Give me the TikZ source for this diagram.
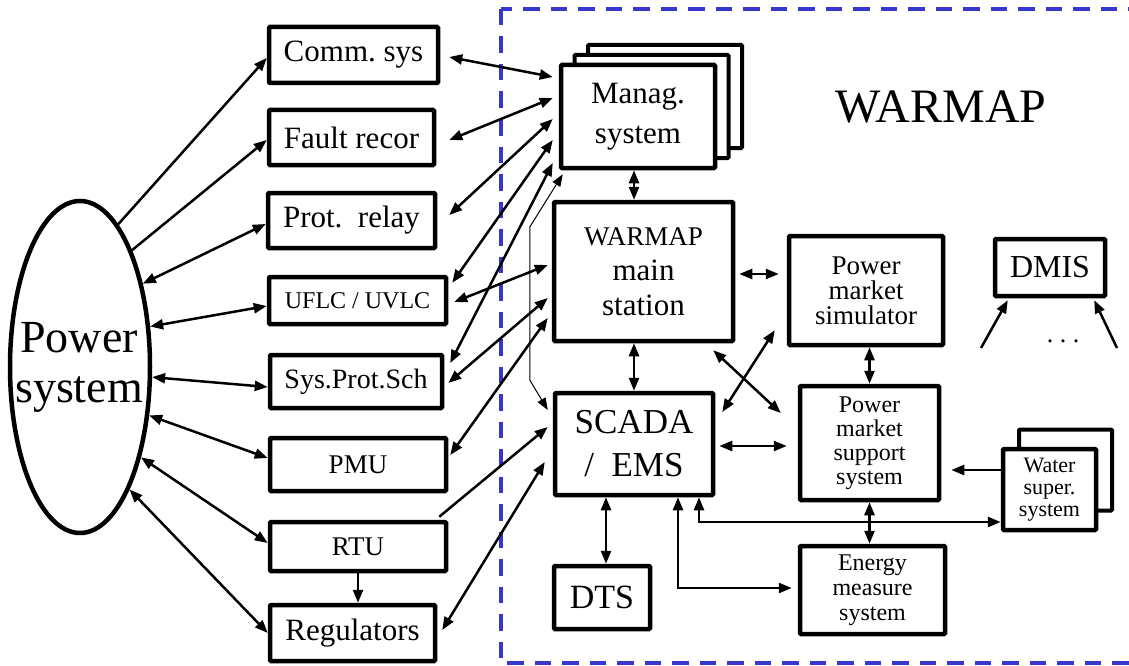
\documentclass[tikz,border=0pt]{standalone}
\usepackage{fontspec}
\setmainfont{Liberation Serif}
\usetikzlibrary{arrows.meta,shapes.geometric}
\definecolor{warmapblue}{RGB}{55,55,205}

\begin{document}
\frenchspacing
\begin{tikzpicture}[x=1pt,y=-1pt,
    block/.style={draw,line width=4.5pt,rounded corners=1pt,fill=white,inner sep=0pt,align=center},
    backblock/.style={block,line width=4pt},
    fs/.style 2 args={font=\fontsize{#1}{#2}\selectfont},
    twoway/.style={line width=2.5pt,{Triangle[length=13pt,width=10pt]}-{Triangle[length=13pt,width=10pt]}},
    oneway/.style={line width=2.5pt,-{Triangle[length=13pt,width=10pt]}},
    thinway/.style={line width=1pt,{Triangle[length=12pt,width=9pt]}-{Triangle[length=12pt,width=9pt]}},
    warmapframe/.style={draw=warmapblue,line width=4pt,dash pattern=on 16.5pt off 11pt}]

  \useasboundingbox (0,0) rectangle (1129,666);

  % the WARMAP part
  \draw[warmapframe] (501,9) rectangle (1145,663);
  \node[fs={48}{50}] (title) at (941,107) {WARMAP};

  % power system and field devices
  \node[ellipse,draw,line width=4.5pt,minimum width=140pt,minimum height=332pt,inner sep=0pt] (power) at (80,367) {};
  \node[fs={46}{50},align=center] (powertext) at (79,367) {Power\\system};

  \node[block,minimum width=169pt,minimum height=56pt,fs={31}{36}] (comm) at (353.5,55) {Comm. sys};
  \node[block,minimum width=165pt,minimum height=55pt,fs={31}{36}] (fault) at (351.5,137.5) {Fault recor};
  \node[block,minimum width=167pt,minimum height=55pt,fs={31}{36}] (prot) at (351.5,220.5) {Prot.\ \ relay};
  \node[block,minimum width=177pt,minimum height=47pt,fs={24}{28}] (uflc) at (357.5,300.5) {UFLC / UVLC};
  \node[block,minimum width=172pt,minimum height=53pt,fs={28}{32}] (sysprot) at (356,381.5) {Sys.Prot.Sch};
  \node[block,minimum width=176pt,minimum height=53pt,fs={27}{32}] (pmu) at (358,464.5) {PMU};
  \node[block,minimum width=176pt,minimum height=49pt,fs={27}{32}] (rtu) at (358,546.5) {RTU};
  \node[block,minimum width=165pt,minimum height=56pt,fs={31}{36}] (reg) at (352.5,633) {Regulators};

  % WARMAP systems
  \node[backblock,minimum width=154pt,minimum height=103pt] (managC) at (665,96.5) {};
  \node[backblock,minimum width=154pt,minimum height=103pt] (managB) at (651.5,106.5) {};
  \node[block,minimum width=154pt,minimum height=103pt,fs={31}{40}] (manag) at (638,116.5) {Manag.\\system};
  \node[block,minimum width=179pt,minimum height=139pt,fs={31}{35}] (main) at (643.5,271.5) {{\fontsize{27}{35}\selectfont WARMAP}\\main\\station};
  \node[block,minimum width=158pt,minimum height=102pt,fs={35}{43}] (scada) at (634,444) {SCADA\\/\ \ EMS};
  \node[block,minimum width=96pt,minimum height=63pt,fs={34}{38}] (dts) at (602,597.5) {DTS};
  \node[block,minimum width=154pt,minimum height=109pt,fs={27}{25}] (pms) at (866,290.5) {Power\\market\\simulator};
  \node[block,minimum width=139pt,minimum height=114pt,fs={24}{24}] (pmss) at (869.5,443) {Power\\market\\support\\system};
  \node[block,minimum width=145pt,minimum height=88pt,fs={24}{25}] (ems) at (872.5,590) {Energy\\measure\\system};
  \node[backblock,minimum width=93pt,minimum height=81pt] (waterB) at (1065.5,470) {};
  \node[block,minimum width=93pt,minimum height=81pt,fs={22}{22}] (water) at (1049.5,489.5) {Water\\super.\\system};
  \node[block,minimum width=110pt,minimum height=57pt,fs={32}{36}] (dmis) at (1050,267.5) {DMIS};
  \node[fs={26}{28}] (etc) at (1063,341) {.\hspace{0.25em}.\hspace{0.25em}.};
  \coordinate (dmisL) at (981,348);
  \coordinate (dmisR) at (1117,348);

  % power system to field devices
  \draw[oneway] (power.75) -- ([yshift=-3pt]comm.west);
  \draw[oneway] (power.66) -- ([yshift=-2.5pt]fault.west);
  \draw[twoway] (power.53) -- ([yshift=-3.5pt]prot.west);
  \draw[twoway] (power.30) -- ([yshift=-5.5pt]uflc.west);
  \draw[twoway] (power.-8) -- ([yshift=-5.5pt]sysprot.west);
  \draw[twoway] (power.-35) -- ([yshift=6.5pt]pmu.west);
  \draw[twoway] (power.-56) -- ([yshift=3.5pt]rtu.west);
  \draw[twoway] (power.-68) -- (reg.west);
  \draw[oneway] (rtu.south) -- (rtu.south |- reg.north);

  % field devices to WARMAP
  \draw[twoway] ([xshift=9pt,yshift=-2pt]comm.east) -- ([xshift=-6pt,yshift=39.5pt]manag.west);
  \draw[twoway] ([xshift=13pt,yshift=-2.5pt]fault.east) -- ([xshift=-6pt,yshift=18.5pt]manag.west);
  \draw[twoway] ([xshift=12pt,yshift=5.5pt]prot.east) -- ([xshift=-6pt,yshift=-2.5pt]manag.west);
  \draw[twoway] ([xshift=4pt,yshift=-8pt]uflc.north east) -- ([xshift=-6pt,yshift=-23.5pt]manag.west);
  \draw[twoway] ([xshift=6pt,yshift=18.5pt]sysprot.east) -- ([xshift=-6pt,yshift=-46.5pt]manag.west);
  \draw[twoway] ([xshift=6pt,yshift=-1.5pt]uflc.east) -- ([xshift=-4pt,yshift=6.5pt]main.west);
  \draw[twoway] ([xshift=4pt,yshift=-1.5pt]sysprot.east) -- ([xshift=-4pt,yshift=-26.5pt]main.west);
  \draw[twoway] ([xshift=2pt,yshift=9.5pt]pmu.east) -- ([xshift=-4pt,yshift=-46.5pt]main.west);
  \draw[oneway] ([xshift=-9pt,yshift=3pt]rtu.north east) -- ([xshift=-5pt,yshift=17pt]scada.west);
  \draw[twoway] ([xshift=5pt,yshift=3pt]reg.east) -- ([xshift=-8pt,yshift=-18pt]scada.west);
  \draw[thinway] ([xshift=-5pt,yshift=34pt]scada.west) -- ++(-18,-30) -- ++(0,-153)
    -- ([xshift=4pt,yshift=-4pt]manag.south west);

  % inside WARMAP
  \draw[twoway] ([xshift=-4pt]manag.south) -- ([xshift=-4pt]manag.south |- main.north);
  \draw[twoway] (scada.north) -- (scada.north |- main.south);
  \draw[twoway] ([xshift=4pt,yshift=-2.5pt]main.east) -- ([xshift=-8pt,yshift=16.5pt]pms.west);
  \draw[twoway] ([xshift=-22pt,yshift=-7pt]main.south east) -- ([xshift=-17pt,yshift=30pt]pmss.west);
  \draw[twoway] ([xshift=-12pt,yshift=17pt]pms.south west) -- ([xshift=7pt,yshift=32pt]scada.east);
  \draw[twoway] ([xshift=4pt,yshift=-2pt]scada.east) -- ([xshift=-11pt,yshift=-3pt]pmss.west);
  \draw[twoway] (pmss.north) -- (pmss.north |- pms.south);
  \draw[twoway] (pmss.south) -- (pmss.south |- ems.north);
  \draw[oneway] ([yshift=19.5pt]water.west) -- ([xshift=10pt,yshift=-27pt]pmss.east);
  \draw[twoway] ([xshift=65pt]scada.south) |- ([yshift=-32.5pt]water.west);
  \draw[twoway] ([xshift=44pt]scada.south) |- ([xshift=-6pt,yshift=2pt]ems.west);
  \draw[twoway] ([xshift=-28pt]scada.south) -- ([xshift=-28pt]scada.south |- dts.north);
  \draw[oneway] (dmisL) -- ([xshift=15pt,yshift=-2pt]dmis.south west);
  \draw[oneway] (dmisR) -- ([xshift=-13pt,yshift=-2pt]dmis.south east);

\end{tikzpicture}
\end{document}
